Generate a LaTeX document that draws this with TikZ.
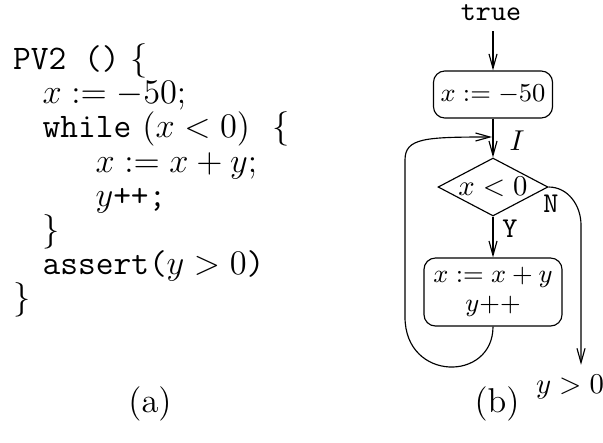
\documentclass[tikz,border=0pt]{standalone}
\usetikzlibrary{arrows.meta,shapes.geometric}
\begin{document}
\begin{tikzpicture}[x=0.3484pt,y=-0.3484pt,
  arr/.style={-{Straight Barb[length=5pt,width=2.8pt]},line width=0.4pt},
  codeline/.style={anchor=base west,inner sep=0pt,font=\large},
  rbox/.style={draw,rounded corners=4pt,inner sep=1pt,align=center,font=\fontsize{9}{10}\selectfont},
  cond/.style={draw,diamond,aspect=1.9,inner sep=0pt,minimum width=38.3pt,minimum height=20.2pt},
  lab/.style={inner sep=0pt}]
\useasboundingbox (0,0) rectangle (603,442);
% code (a)
\node[codeline] (l1) at (12.5,69) {\texttt{PV2 ()} $\{$};
\node[codeline] (l2) at (42,103) {$x := -50;$};
\node[codeline] (l3) at (42,137) {\texttt{while} $(x < 0)$ \ $\{$};
\node[codeline] (l4) at (95,172) {$x := x + y;$};
\node[codeline] (l5) at (95,206) {$y$\texttt{++;}};
\node[codeline] (l6) at (42,240) {$\}$};
\node[codeline] (l7) at (42,274) {\texttt{assert(}$y > 0$\texttt{)}};
\node[codeline] (l8) at (12.5,308) {$\}$};
\node[font=\large] (capa) at (150,404) {(a)};
% flowchart (b)
\node[font=\ttfamily] (true) at (491,13) {true};
\node[rbox,minimum width=41.5pt,minimum height=16.4pt] (init) at (493,94.5) {$x := -50$};
\node[cond] (dia) at (493,187) {$x < 0$};
\node[rbox,minimum width=48.1pt,minimum height=23.7pt] (body) at (493,292) {$x := x + y$\\ $y{+}{+}$};
\node (post) at (570,387) {$y > 0$};
\node[font=\large] (capb) at (497,404) {(b)};
\coordinate (join) at (492,137);
\node[lab] (lI) at (517,141) {$I$};
\node[lab,font=\ttfamily] (lY) at (510,229) {Y};
\node[lab,font=\ttfamily] (lN) at (551,204) {N};
\draw[arr] (init.north |- true.south) -- (init.north);
\draw[arr] (init.south) -- (dia.north);
\draw[arr] (dia.south) -- (body.north);
\draw[arr] (body.south) .. controls (493,382) and (405,382) .. (405,317) -- (405,160) .. controls (405,138) and (425,137) .. (join);
\draw[arr] (dia.east) to[out=0,in=90] (581,225) -- (post.north -| 581,0);
\end{tikzpicture}
\end{document}
